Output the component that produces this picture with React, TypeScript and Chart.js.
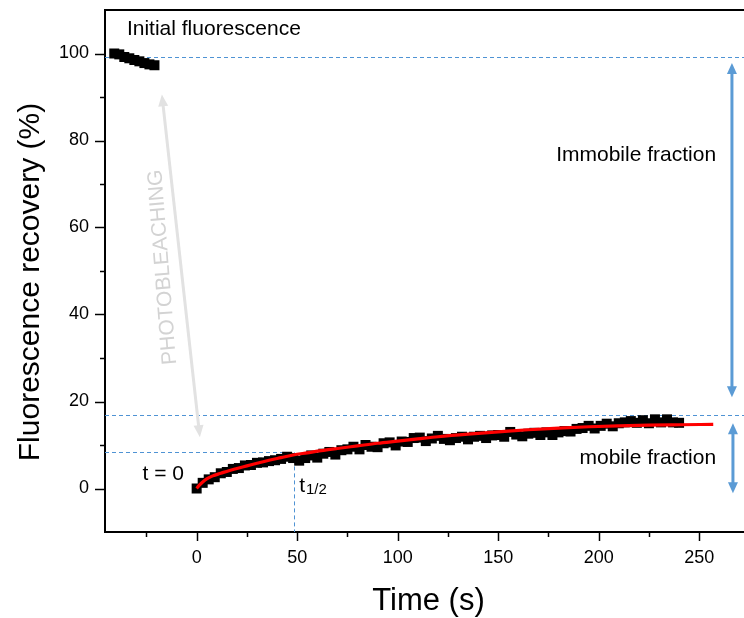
import React, { useEffect, useRef } from "react";
import { Chart, registerables } from "chart.js";

Chart.register(...registerables);

// ---------------- data ----------------
const preTimes = [-41, -38.5, -36, -33.5, -31, -28.5, -26, -23.5, -21];
const preValues = [100, 99.8, 99.2, 98.9, 98.5, 98.2, 97.8, 97.5, 97.3];

const recTimes = [
  0, 3, 6, 9, 12, 15, 18, 21, 24, 27, 30, 33, 36, 39, 42, 45, 48, 51, 54, 57,
  60, 63, 66, 69, 72, 75, 78, 81, 84, 87, 90, 93, 96, 99, 102, 105, 108, 111,
  114, 117, 120, 123, 126, 129, 132, 135, 138, 141, 144, 147, 150, 153, 156,
  159, 162, 165, 168, 171, 174, 177, 180, 183, 186, 189, 192, 195, 198, 201,
  204, 207, 210, 213, 216, 219, 222, 225, 228, 231, 234, 237, 240,
];
const recValues = [
  0.0, 1.3, 2.1, 2.6, 3.5, 3.8, 4.5, 4.7, 5.3, 5.4, 5.9, 6.0, 6.3, 6.5, 6.8,
  7.3, 7.0, 6.4, 7.0, 7.6, 7.1, 8.0, 8.4, 7.8, 8.8, 9.0, 9.6, 9.0, 10.0, 9.6,
  9.5, 10.4, 10.6, 9.9, 10.8, 10.7, 11.6, 11.7, 10.9, 11.5, 12.1, 11.4, 11.1,
  11.6, 11.9, 11.3, 11.9, 12.1, 11.6, 12.2, 12.3, 11.9, 13.0, 12.4, 12.0, 12.6,
  12.8, 12.3, 12.9, 12.3, 12.9, 13.2, 13.1, 13.7, 13.9, 14.4, 13.8, 14.4, 14.9,
  14.3, 15.0, 15.2, 15.5, 15.1, 15.7, 15.0, 15.9, 15.2, 15.9, 15.2, 15.1,
];

const fitTimes = [
  0, 1, 3, 5, 8, 12, 16, 20, 25, 30, 36, 42, 48, 55, 62, 70, 80, 90, 100, 110,
  120, 135, 150, 165, 180, 195, 210, 225, 240, 257,
];
const fitValues = [
  0, 0.6, 1.5, 2.2, 2.9, 3.5, 4.1, 4.6, 5.2, 5.8, 6.5, 7.1, 7.7, 8.2, 8.7, 9.2,
  9.8, 10.4, 10.9, 11.4, 11.9, 12.5, 13.0, 13.5, 13.9, 14.2, 14.4, 14.55, 14.65,
  14.75,
];

const xMajorTicks = [0, 50, 100, 150, 200, 250];
const xMinorTicks = [-25, 25, 75, 125, 175, 225];
const yMajorTicks = [0, 20, 40, 60, 80, 100];
const yMinorTicks = [10, 30, 50, 70, 90];

// reference levels (data units)
const initialLevel = 99.3;
const plateauLevel = 16.9;
const halfLevel = 8.3;
const tHalf = 48.4;

const FONT = '"Liberation Sans", Arial, Helvetica, sans-serif';
const BLUE = "#5b9bd5";
const DASH_BLUE = "#4f93d4";

function arrow(
  ctx: CanvasRenderingContext2D,
  x1: number, y1: number, x2: number, y2: number,
  color: string, width: number, headLen: number, headHalf: number
) {
  const ang = Math.atan2(y2 - y1, x2 - x1);
  const c = Math.cos(ang), s = Math.sin(ang);
  ctx.save();
  ctx.strokeStyle = color;
  ctx.fillStyle = color;
  ctx.lineWidth = width;
  ctx.setLineDash([]);
  ctx.beginPath();
  ctx.moveTo(x1 + c * (headLen - 1), y1 + s * (headLen - 1));
  ctx.lineTo(x2 - c * (headLen - 1), y2 - s * (headLen - 1));
  ctx.stroke();
  const head = (tx: number, ty: number, dc: number, ds: number) => {
    const bx = tx - dc * headLen, by = ty - ds * headLen;
    ctx.beginPath();
    ctx.moveTo(tx, ty);
    ctx.lineTo(bx - ds * headHalf, by + dc * headHalf);
    ctx.lineTo(bx + ds * headHalf, by - dc * headHalf);
    ctx.closePath();
    ctx.fill();
  };
  head(x2, y2, c, s);
  head(x1, y1, -c, -s);
  ctx.restore();
}

const decorPlugin = {
  id: "decor",
  beforeDatasetsDraw(chart: any) {
    const { ctx } = chart;
    const x = chart.scales.x, y = chart.scales.y;
    ctx.save();
    ctx.strokeStyle = DASH_BLUE;
    ctx.lineWidth = 1;
    ctx.setLineDash([4, 3]);
    const hl = (v: number, x0: number, x1: number) => {
      const py = Math.round(y.getPixelForValue(v)) + 0.5;
      ctx.beginPath();
      ctx.moveTo(x0, py);
      ctx.lineTo(x1, py);
      ctx.stroke();
    };
    hl(initialLevel, x.left, x.right);
    hl(plateauLevel, x.left, x.right);
    hl(halfLevel, x.left, x.getPixelForValue(tHalf));
    const px = Math.round(x.getPixelForValue(tHalf)) + 0.5;
    ctx.beginPath();
    ctx.moveTo(px, y.getPixelForValue(halfLevel));
    ctx.lineTo(px, y.bottom);
    ctx.stroke();
    ctx.restore();

    // photobleaching arrow
    arrow(
      ctx,
      x.getPixelForValue(-17.3), y.getPixelForValue(90.6),
      x.getPixelForValue(1.6), y.getPixelForValue(11.8),
      "#e2e2e2", 3, 12, 5
    );
    ctx.save();
    ctx.translate(x.getPixelForValue(-16.8), y.getPixelForValue(50.9));
    ctx.rotate((-94.4 * Math.PI) / 180);
    ctx.font = `21px ${FONT}`;
    ctx.fillStyle = "#d3d3d3";
    ctx.textAlign = "center";
    ctx.textBaseline = "middle";
    ctx.fillText("PHOTOBLEACHING", 0, 0);
    ctx.restore();
  },
  afterDraw(chart: any) {
    const { ctx } = chart;
    const x = chart.scales.x, y = chart.scales.y;
    ctx.save();
    ctx.strokeStyle = "#000";
    ctx.setLineDash([]);
    // top frame
    ctx.lineWidth = 2;
    ctx.beginPath();
    ctx.moveTo(x.left - 1, y.top);
    ctx.lineTo(x.right, y.top);
    ctx.stroke();
    ctx.lineWidth = 1.5;
    const yt = (v: number, len: number) => {
      const py = Math.round(y.getPixelForValue(v)) + 0.5;
      ctx.beginPath();
      ctx.moveTo(x.left - len, py);
      ctx.lineTo(x.left, py);
      ctx.stroke();
    };
    const xt = (v: number, len: number) => {
      const px = Math.round(x.getPixelForValue(v)) + 0.5;
      ctx.beginPath();
      ctx.moveTo(px, y.bottom);
      ctx.lineTo(px, y.bottom + len);
      ctx.stroke();
    };
    yMajorTicks.forEach((v) => yt(v, 10));
    yMinorTicks.forEach((v) => yt(v, 5));
    xMajorTicks.forEach((v) => xt(v, 9));
    xMinorTicks.forEach((v) => xt(v, 5));

    // blue arrows
    arrow(
      ctx,
      x.getPixelForValue(266.3), y.getPixelForValue(97.8),
      x.getPixelForValue(266.3), y.getPixelForValue(21.0),
      BLUE, 3, 11, 5
    );
    arrow(
      ctx,
      x.getPixelForValue(266.8), y.getPixelForValue(15.0),
      x.getPixelForValue(266.8), y.getPixelForValue(-1.1),
      BLUE, 3, 11, 5
    );

    // annotations
    ctx.fillStyle = "#000";
    ctx.font = `21px ${FONT}`;
    ctx.textBaseline = "middle";
    ctx.textAlign = "left";
    ctx.fillText("Initial fluorescence", x.getPixelForValue(-34.7), y.getPixelForValue(105.6));
    ctx.fillText("t = 0", x.getPixelForValue(-26.9), y.getPixelForValue(3.3));
    const tx = x.getPixelForValue(51);
    const ty = y.getPixelForValue(0.5);
    ctx.fillText("t", tx, ty);
    const tw = ctx.measureText("t").width;
    ctx.font = `15px ${FONT}`;
    ctx.fillText("1/2", tx + tw + 1, ty + 4);
    ctx.font = `21px ${FONT}`;
    ctx.textAlign = "right";
    ctx.fillText("Immobile fraction", x.getPixelForValue(258.4), y.getPixelForValue(76.6));
    ctx.fillText("mobile fraction", x.getPixelForValue(258.4), y.getPixelForValue(7.0));

    // axis titles
    ctx.font = `31px ${FONT}`;
    ctx.textAlign = "center";
    ctx.fillText("Time (s)", (x.left + x.right) / 2 + 4, 601);
    ctx.font = `30px ${FONT}`;
    ctx.save();
    ctx.translate(31, 282);
    ctx.rotate(-Math.PI / 2);
    ctx.fillText("Fluorescence recovery (%)", 0, 0);
    ctx.restore();
    ctx.restore();
  },
};

export default function App() {
  const ref = useRef<HTMLCanvasElement | null>(null);
  useEffect(() => {
    if (!ref.current) return;
    const pre = preTimes.map((t, i) => ({ x: t, y: preValues[i] }));
    const rec = recTimes.map((t, i) => ({ x: t, y: recValues[i] }));
    const fit = fitTimes.map((t, i) => ({ x: t, y: fitValues[i] }));
    const chart = new Chart(ref.current, {
      type: "scatter",
      data: {
        datasets: [
          {
            type: "line",
            label: "fit",
            data: fit,
            borderColor: "#ff0000",
            borderWidth: 3.2,
            pointRadius: 0,
            cubicInterpolationMode: "monotone",
            fill: false,
            order: 0,
          } as any,
          {
            label: "pre",
            data: pre,
            pointStyle: "rect",
            pointRadius: 7.07,
            backgroundColor: "#000",
            borderWidth: 0,
            order: 1,
          },
          {
            label: "recovery",
            data: rec,
            pointStyle: "rect",
            pointRadius: 7.07,
            backgroundColor: "#000",
            borderWidth: 0,
            order: 1,
          },
        ],
      },
      options: {
        animation: false,
        responsive: false,
        devicePixelRatio: 1,
        layout: { autoPadding: false, padding: { top: 10, right: 0, left: 0, bottom: 0 } },
        plugins: {
          legend: { display: false },
          tooltip: { enabled: false },
        },
        scales: {
          x: {
            type: "linear",
            min: -45.6,
            max: 272.3,
            grid: { display: false, drawTicks: false, tickLength: 0 },
            border: { display: true, color: "#000", width: 2 },
            ticks: {
              color: "#000",
              padding: 15,
              font: { family: FONT, size: 18 },
              maxRotation: 0,
            },
            afterBuildTicks: (s: any) => {
              s.ticks = xMajorTicks.map((v) => ({ value: v }));
            },
            afterFit: (s: any) => {
              s.height = 86;
              s.paddingLeft = 0;
              s.paddingRight = 0;
            },
          },
          y: {
            type: "linear",
            min: -10,
            max: 110,
            grid: { display: false, drawTicks: false, tickLength: 0 },
            border: { display: true, color: "#000", width: 2 },
            ticks: {
              color: "#000",
              padding: 16,
              font: { family: FONT, size: 18 },
            },
            afterBuildTicks: (s: any) => {
              s.ticks = yMajorTicks.map((v) => ({ value: v }));
            },
            afterFit: (s: any) => {
              s.width = 105;
              s.paddingTop = 0;
              s.paddingBottom = 0;
            },
          },
        },
      },
      plugins: [decorPlugin],
    });
    return () => chart.destroy();
  }, []);
  return (
    <div style={{ position: "absolute", left: 0, top: 0, width: 744, height: 618, overflow: "hidden", background: "#fff" }}>
      <canvas ref={ref} width={744} height={618} style={{ display: "block" }} />
    </div>
  );
}
